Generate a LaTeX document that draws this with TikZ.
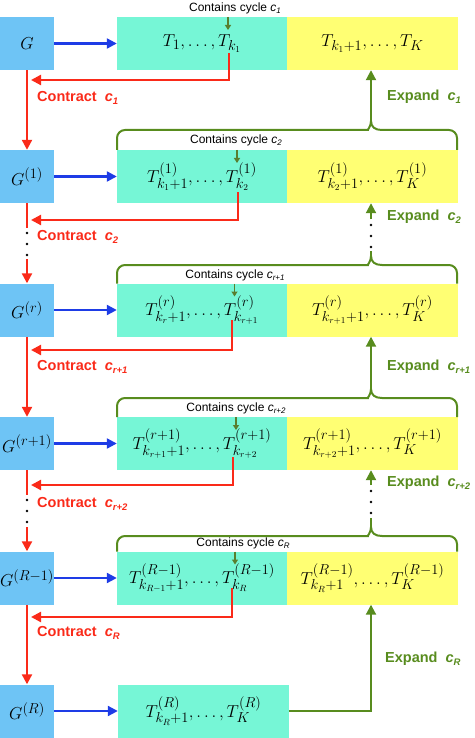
\documentclass[tikz,border=0pt]{standalone}
\usepackage{fontspec}
\setsansfont{Liberation Sans}
\usetikzlibrary{arrows.meta}
\definecolor{gblue}{RGB}{110,196,245}
\definecolor{tealc}{RGB}{118,246,214}
\definecolor{yell}{RGB}{255,255,115}
\definecolor{redc}{RGB}{250,42,25}
\definecolor{bluec}{RGB}{30,60,230}
\definecolor{greenc}{RGB}{88,140,30}
\newcommand\clab[2]{{\sffamily\bfseries #1\hspace{8pt}\itshape c\raisebox{-2.5pt}{\fontsize{9.5}{10}\selectfont #2}}}
\newcommand\cyc[1]{{\sffamily Contains cycle \itshape c\raisebox{-2pt}{\fontsize{8}{9}\selectfont #1}}}
\begin{document}
\begin{tikzpicture}[x=1pt,y=-1pt,
  gbox/.style={fill=gblue,minimum width=54pt,minimum height=53pt,inner sep=0pt,font=\fontsize{19}{22}\selectfont},
  tbox/.style={fill=tealc,minimum width=170pt,minimum height=53pt,inner sep=0pt,font=\fontsize{19}{22}\selectfont},
  ybox/.style={fill=yell,minimum width=171pt,minimum height=53pt,inner sep=0pt,font=\fontsize{19}{22}\selectfont},
  redl/.style={draw=redc,line width=2.2pt},
  reda/.style={redl,-{Triangle[length=10pt,width=10pt]}},
  bluea/.style={draw=bluec,line width=2.2pt,-{Triangle[length=10pt,width=10pt]}},
  greenl/.style={draw=greenc,line width=2pt},
  greena/.style={greenl,-{Triangle[length=10pt,width=10pt]}},
  smallg/.style={draw=greenc!80!black!90,line width=1.4pt,-{Triangle[length=5pt,width=6pt]}},
  bdot/.style={fill=black,circle,inner sep=0pt,minimum size=2.8pt},
  contr/.style={anchor=west,text=redc,font=\fontsize{14.5}{16}\selectfont,inner sep=0pt},
  expd/.style={anchor=west,text=greenc,font=\fontsize{14.5}{16}\selectfont,inner sep=0pt},
  cycl/.style={font=\fontsize{12}{14}\selectfont,inner sep=0pt}]
\useasboundingbox (0,0) rectangle (474,738);
% boxes
\node[gbox] (g1) at (27,43.5) {$G$};
\node[tbox] (t1) at (202,43.5) {$T_1,\ldots,T_{k_1}$};
\node[ybox] (y1) at (372.5,43.5) {$T_{k_1+1},\ldots,T_K$};
\node[gbox] (g2) at (27,176.5) {$G^{(1)}$};
\node[tbox] (t2) at (202,176.5) {$T^{(1)}_{k_1+1},\ldots,T^{(1)}_{k_2}$};
\node[ybox] (y2) at (372.5,176.5) {$T^{(1)}_{k_2+1},\ldots,T^{(1)}_K$};
\node[gbox] (g3) at (27,310) {$G^{(r)}$};
\node[tbox] (t3) at (202,310) {$T^{(r)}_{k_r+1},\ldots,T^{(r)}_{k_{r+1}}$};
\node[ybox] (y3) at (372.5,310) {$T^{(r)}_{k_{r+1}+1},\ldots,T^{(r)}_K$};
\node[gbox] (g4) at (27,443.5) {$G^{(r+1)}$};
\node[tbox] (t4) at (202,443.5) {$T^{(r+1)}_{k_{r+1}+1},\ldots,T^{(r+1)}_{k_{r+2}}$};
\node[ybox] (y4) at (372.5,443.5) {$T^{(r+1)}_{k_{r+2}+1},\ldots,T^{(r+1)}_K$};
\node[gbox] (g5) at (27,578) {$G^{(R-1)}$};
\node[tbox] (t5) at (202,578) {$T^{(R-1)}_{k_{R-1}+1},\ldots,T^{(R-1)}_{k_R}$};
\node[ybox] (y5) at (372.5,578) {$T^{(R-1)}_{k_R+1},\ldots,T^{(R-1)}_K$};
\node[gbox] (g6) at (27,711) {$G^{(R)}$};
\node[tbox,minimum width=171pt] (t6) at (203.5,711) {$T^{(R)}_{k_R+1},\ldots,T^{(R)}_K$};
% blue arrows
\foreach \i in {1,...,6} \draw[bluea] (g\i.east) -- (t\i.west);
% contains cycle labels
\node[cycl] (cc1) at (235,8) {\cyc{1}};
\node[cycl] (cc2) at (236,140) {\cyc{2}};
\node[cycl] (cc3) at (235,275) {\cyc{r+1}};
\node[cycl] (cc4) at (236,408) {\cyc{r+2}};
\node[cycl] (cc5) at (243,543) {\cyc{R}};
\coordinate (a1) at (228,17); \coordinate (a2) at (237,150); \coordinate (a3) at (234.5,283.5);
\coordinate (a4) at (236,417); \coordinate (a5) at (235,551.5);
\draw[smallg] (a1) -- ++(0,13);
\draw[smallg] (a2) -- ++(0,13);
\draw[smallg] (a3) -- ++(0,13);
\draw[smallg] (a4) -- ++(0,13);
\draw[smallg] (a5) -- ++(0,13);
% contract lines
\coordinate (s1) at (229,53); \coordinate (s2) at (238,192); \coordinate (s3) at (232,320);
\coordinate (s4) at (233,457); \coordinate (s5) at (232,588);
\draw[reda] (s1) -- (229,80) -- (31,80);
\draw[reda] (s2) -- (238,220) -- (31,220);
\draw[reda] (s3) -- (232,350) -- (31,350);
\draw[reda] (s4) -- (233,485) -- (31,485);
\draw[reda] (s5) -- (232,617) -- (31,617);
\node[contr] (k1) at (37,98) {\clab{Contract}{1}};
\node[contr] (k2) at (37,237) {\clab{Contract}{2}};
\node[contr] (k3) at (37,367) {\clab{Contract}{r+1}};
\node[contr] (k4) at (37,504) {\clab{Contract}{r+2}};
\node[contr] (k5) at (37,633) {\clab{Contract}{R}};
% vertical red
\draw[reda] (g1.south) -- (g2.north);
\coordinate (d2a) at (27,228); \coordinate (d2b) at (27,259);
\draw[redl] (g2.south) -- (d2a);
\node[bdot] at (27,233) {}; \node[bdot] at (27,244) {}; \node[bdot] at (27,255) {};
\draw[reda] (d2b) -- (g3.north);
\draw[reda] (g3.south) -- (g4.north);
\coordinate (d4a) at (27,495); \coordinate (d4b) at (27,527);
\draw[redl] (g4.south) -- (d4a);
\node[bdot] at (27,500) {}; \node[bdot] at (27,511) {}; \node[bdot] at (27,522) {};
\draw[reda] (d4b) -- (g5.north);
\draw[reda] (g5.south) -- (g6.north);
% braces
\newcommand\gbrace[3]{%
 \draw[greenl] (117,#2) [rounded corners=8pt] -- (117,#1) -- (360,#1) [sharp corners] .. controls (367,#1) and (371,#1-3) .. (371,#1-9);
 \draw[greenl] (371,#1-9) .. controls (371,#1-3) and (375,#1) .. (382,#1) [rounded corners=8pt] -- (457,#1) -- (457,#2);
 \coordinate (#3) at (371,#1-9);}
\gbrace{130}{150}{tip2}
\gbrace{265}{283.5}{tip3}
\gbrace{398}{417}{tip4}
\gbrace{536}{551.5}{tip5}
% expand arrows
\draw[greena] (tip2) -- (tip2 |- y1.south);
\coordinate (e2a) at (371,251); \coordinate (e2b) at (371,219);
\draw[greenl] (tip3) -- (e2a);
\node[bdot] at (371,247) {}; \node[bdot] at (371,236) {}; \node[bdot] at (371,225) {};
\draw[greena] (e2b) -- (e2b |- y2.south);
\draw[greena] (tip4) -- (tip4 |- y3.south);
\coordinate (e4a) at (371,518); \coordinate (e4b) at (371,485);
\draw[greenl] (tip5) -- (e4a);
\node[bdot] at (371,513) {}; \node[bdot] at (371,502) {}; \node[bdot] at (371,491) {};
\draw[greena] (e4b) -- (e4b |- y4.south);
\coordinate (c6) at (371,711);
\draw[greena] (t6.east) -- (c6) -- (c6 |- y5.south);
\node[expd] (x1) at (387,97) {\clab{Expand}{1}};
\node[expd] (x2) at (387,217) {\clab{Expand}{2}};
\node[expd] (x3) at (387,367) {\clab{Expand}{r+1}};
\node[expd] (x4) at (387,483) {\clab{Expand}{r+2}};
\node[expd] (x5) at (385,659) {\clab{Expand}{R}};
\end{tikzpicture}
\end{document}
